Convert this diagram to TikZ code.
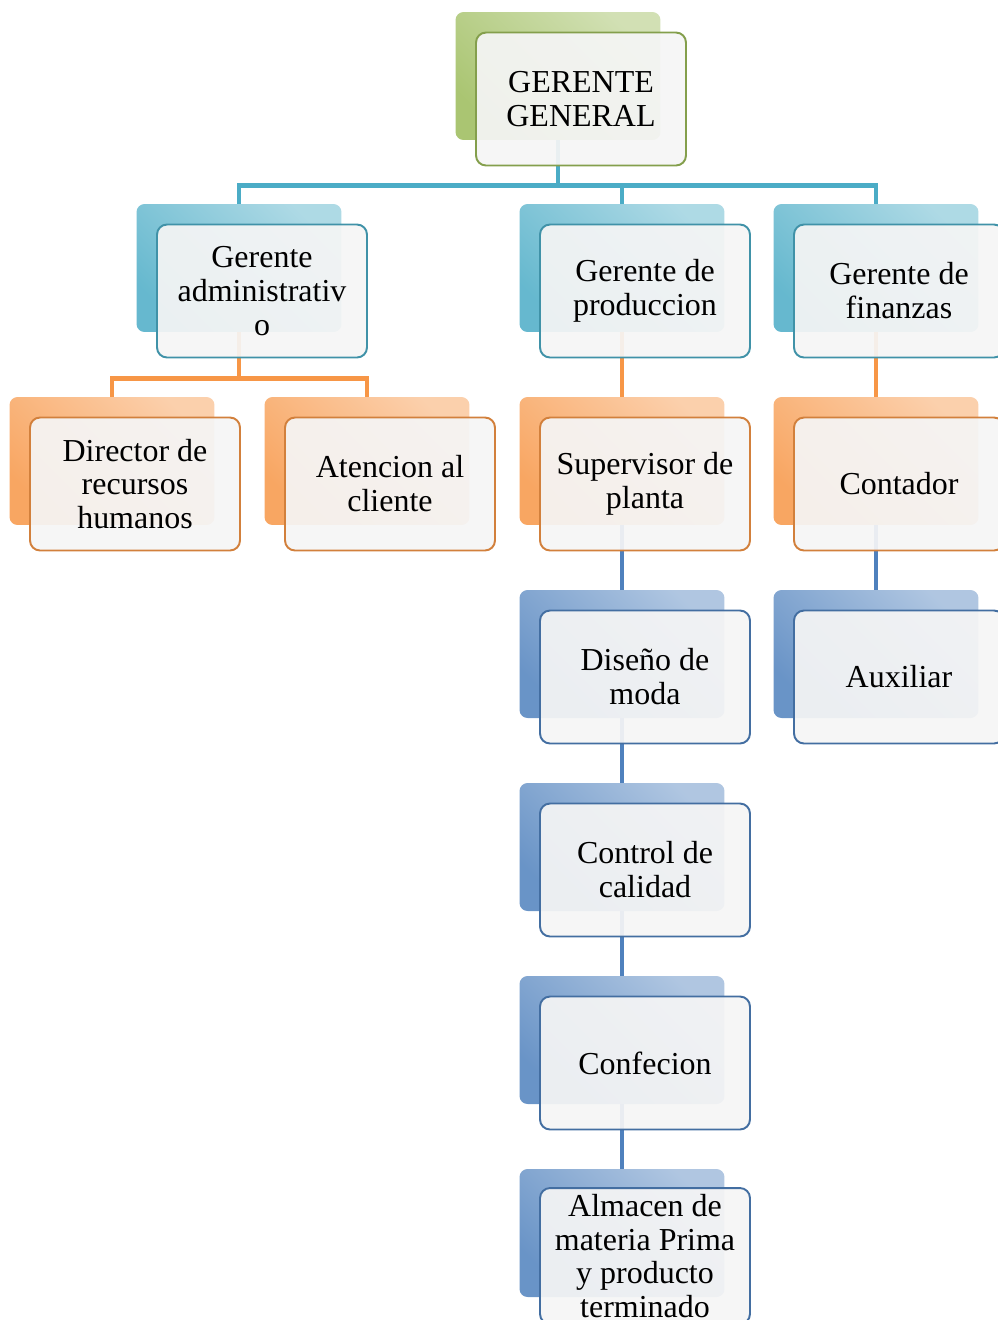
\documentclass[tikz,border=0pt]{standalone}
\usepackage{fontspec}
\setmainfont{Liberation Serif}
\usepackage{tikz}
\usetikzlibrary{positioning}
\definecolor{accGreen}{HTML}{9BBB59}
\definecolor{accTeal}{HTML}{4BACC6}
\definecolor{accOrange}{HTML}{F79646}
\definecolor{accBlue}{HTML}{4F81BD}
\begin{document}
\begin{tikzpicture}[
        x=0.02cm, y=-0.02cm,
        back/.style={rectangle, rounded corners=0.16cm, minimum width=4.1cm, minimum height=2.56cm,
            top color=#1!45!white, bottom color=#1!85!white, shading angle=-45},
        front/.style={rectangle, draw=#1!85!black, line width=1.1pt, rounded corners=0.2cm,
            fill=#1!5!black!4!white, fill opacity=0.93, text opacity=1, minimum width=4.2cm, minimum height=2.66cm,
            align=center, font=\fontsize{18.2}{19.3}\selectfont},
        link/.style={line width=2.8pt, draw=#1}
    ]
    \useasboundingbox (0,0) rectangle (998,1320);
%
    % Back boxes
    \node[back=accGreen] (gg_back) at (558,76) {};
    \node[back=accTeal] (adm_back) at (239,268) {};
    \node[back=accTeal] (prod_back) at (622,268) {};
    \node[back=accTeal] (fin_back) at (876,268) {};
    \node[back=accOrange] (rrhh_back) at (112,461) {};
    \node[back=accOrange] (aten_back) at (367,461) {};
    \node[back=accOrange] (sup_back) at (622,461) {};
    \node[back=accOrange] (cont_back) at (876,461) {};
    \node[back=accBlue] (dis_back) at (622,654) {};
    \node[back=accBlue] (aux_back) at (876,654) {};
    \node[back=accBlue] (cal_back) at (622,847) {};
    \node[back=accBlue] (conf_back) at (622,1040) {};
    \node[back=accBlue] (alm_back) at (622,1233) {};
%
    % Connectors
    \draw[link=accTeal] (gg_back.south) -- ++(0,45) -| (adm_back.north);
    \draw[link=accTeal] (gg_back.south) -- ++(0,45) -| (prod_back.north);
    \draw[link=accTeal] (gg_back.south) -- ++(0,45) -| (fin_back.north);
    \draw[link=accOrange] (adm_back.south) -- ++(0,46) -| (rrhh_back.north);
    \draw[link=accOrange] (adm_back.south) -- ++(0,46) -| (aten_back.north);
    \draw[link=accOrange] (prod_back.south) -- (sup_back.north);
    \draw[link=accOrange] (fin_back.south) -- (cont_back.north);
    \draw[link=accBlue] (sup_back.south) -- (dis_back.north);
    \draw[link=accBlue] (dis_back.south) -- (cal_back.north);
    \draw[link=accBlue] (cal_back.south) -- (conf_back.north);
    \draw[link=accBlue] (conf_back.south) -- (alm_back.north);
    \draw[link=accBlue] (cont_back.south) -- (aux_back.north);
%
    % Front boxes
    \node[front=accGreen] (gg) at ([shift={(23,23)}]gg_back) {GERENTE\\GENERAL};
    \node[front=accTeal] (adm) at ([shift={(23,23)}]adm_back) {Gerente\\administrativ\\o};
    \node[front=accTeal] (prod) at ([shift={(23,23)}]prod_back) {Gerente de\\produccion};
    \node[front=accTeal] (fin) at ([shift={(23,23)}]fin_back) {Gerente de\\finanzas};
    \node[front=accOrange] (rrhh) at ([shift={(23,23)}]rrhh_back) {Director de\\recursos\\humanos};
    \node[front=accOrange] (aten) at ([shift={(23,23)}]aten_back) {Atencion al\\cliente};
    \node[front=accOrange] (sup) at ([shift={(23,23)}]sup_back) {Supervisor de\\planta};
    \node[front=accOrange] (cont) at ([shift={(23,23)}]cont_back) {Contador};
    \node[front=accBlue] (dis) at ([shift={(23,23)}]dis_back) {Diseño de\\moda};
    \node[front=accBlue] (aux) at ([shift={(23,23)}]aux_back) {Auxiliar};
    \node[front=accBlue] (cal) at ([shift={(23,23)}]cal_back) {Control de\\calidad};
    \node[front=accBlue] (conf) at ([shift={(23,23)}]conf_back) {Confecion};
    \node[front=accBlue] (alm) at ([shift={(23,23)}]alm_back) {Almacen de\\materia Prima\\y producto\\terminado};
%
    \end{tikzpicture}
\end{document}
